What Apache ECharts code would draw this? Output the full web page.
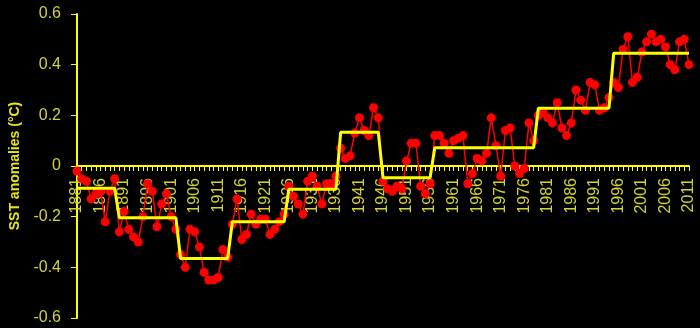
<!DOCTYPE html>
<html>
<head>
<meta charset="utf-8">
<script src="https://cdn.jsdelivr.net/npm/echarts@6/dist/echarts.min.js"></script>
<style>
  html, body { margin: 0; padding: 0; background: #000; }
  #chart { width: 700px; height: 328px; }
</style>
</head>
<body>
<div id="chart"></div>
<script>
// years 1881..2011
var firstYear = 1881;
var lastYear = 2011;

// annual SST anomalies (°C)
var anomalies = [
  -0.02, -0.05, -0.06, -0.13, -0.11, -0.10, -0.22, -0.10, -0.05, -0.26, // 1881-1890
  -0.18, -0.25, -0.28, -0.30, -0.20, -0.07, -0.10, -0.24, -0.15, -0.11, // 1891-1900
  -0.20, -0.25, -0.35, -0.40, -0.25, -0.26, -0.32, -0.42, -0.45, -0.45, // 1901-1910
  -0.44, -0.33, -0.36, -0.23, -0.13, -0.29, -0.27, -0.19, -0.23, -0.21, // 1911-1920
  -0.21, -0.27, -0.25, -0.22, -0.19, -0.08, -0.12, -0.15, -0.19, -0.06, // 1921-1930
  -0.04, -0.08, -0.15, -0.07, -0.07, -0.04, 0.07, 0.03, 0.04, 0.13,     // 1931-1940
  0.19, 0.14, 0.12, 0.23, 0.19, -0.06, -0.09, -0.10, -0.08, -0.09,      // 1941-1950
  0.02, 0.09, 0.09, -0.08, -0.11, -0.07, 0.12, 0.12, 0.09, 0.05,        // 1951-1960
  0.10, 0.11, 0.12, -0.07, -0.03, 0.03, 0.02, 0.05, 0.19, 0.08,         // 1961-1970
  -0.04, 0.14, 0.15, 0.00, -0.03, -0.01, 0.17, 0.10, 0.20, 0.21,        // 1971-1980
  0.19, 0.17, 0.25, 0.15, 0.12, 0.17, 0.30, 0.26, 0.22, 0.33,           // 1981-1990
  0.32, 0.22, 0.23, 0.27, 0.33, 0.31, 0.46, 0.51, 0.33, 0.35,           // 1991-2000
  0.45, 0.49, 0.52, 0.49, 0.50, 0.47, 0.40, 0.38, 0.49, 0.50,           // 2001-2010
  0.40                                                                  // 2011
];

// regime shifts: first year of each regime and its mean
var regimeStart = [1881, 1890, 1903, 1914, 1926, 1937, 1946, 1957, 1979, 1995];
var regimeMean = [-0.088, -0.204, -0.365, -0.22, -0.092, 0.133, -0.046, 0.072, 0.228, 0.445];

var yTicks = [-0.6, -0.4, -0.2, 0, 0.2, 0.4, 0.6];

var years = [];
var steps = [];
for (var y = firstYear; y <= lastYear; y++) {
  years.push(String(y));
  var m = regimeMean[0];
  for (var i = 0; i < regimeStart.length; i++) {
    if (y >= regimeStart[i]) m = regimeMean[i];
  }
  steps.push(m);
}

var chart = echarts.init(document.getElementById('chart'), null, { renderer: 'canvas' });

// plot area: top 14, bottom 10 -> 304px tall, zero line half way
var gridTop = 14, gridBottom = 10;
var plotH = 328 - gridTop - gridBottom;

var option = {
  backgroundColor: '#000000',
  animation: false,
  textStyle: { fontFamily: 'Liberation Sans, Arial, sans-serif' },
  grid: { left: 77, right: 11, top: gridTop, bottom: gridBottom, containLabel: false, outerBoundsMode: 'none' },
  xAxis: {
    type: 'category',
    data: years,
    boundaryGap: false,
    position: 'bottom',
    z: 0,
    // put the axis (line, ticks, labels) on y = 0
    offset: -plotH * (0 - yTicks[0]) / (yTicks[yTicks.length - 1] - yTicks[0]),
    axisLine: { onZero: false, lineStyle: { color: '#ffff00', width: 2 } },
    axisTick: { show: true, interval: 0, length: 5, lineStyle: { color: '#ffff00', width: 1 } },
    axisLabel: {
      interval: 4,
      rotate: 90,
      margin: 12,
      color: '#d2d23c',
      fontSize: 16
    },
    splitLine: { show: false }
  },
  yAxis: {
    type: 'value',
    min: yTicks[0],
    max: yTicks[yTicks.length - 1],
    interval: 0.2,
    name: 'SST anomalies (°C)',
    nameLocation: 'middle',
    nameGap: 51,
    nameTextStyle: { color: '#e6e61e', fontSize: 14, fontWeight: 'bold' },
    axisLine: { show: true, onZero: false, lineStyle: { color: '#ffff00', width: 2 } },
    axisTick: { show: true, length: 6, lineStyle: { color: '#ffff00', width: 1 } },
    axisLabel: {
      color: '#d2d23c',
      fontSize: 16,
      margin: 16,
      formatter: function (v) { return String(+v.toFixed(1)); }
    },
    splitLine: { show: false }
  },
  series: [
    {
      name: 'annual',
      type: 'line',
      data: anomalies,
      symbol: 'circle',
      symbolSize: 9,
      showAllSymbol: true,
      itemStyle: { color: '#ff0000' },
      lineStyle: { color: '#ff0000', width: 1.5 },
      z: 2
    },
    {
      name: 'regime',
      type: 'line',
      data: steps,
      symbol: 'none',
      lineStyle: { color: '#ffff00', width: 3 },
      z: 3
    }
  ]
};

chart.setOption(option);
</script>
</body>
</html>
